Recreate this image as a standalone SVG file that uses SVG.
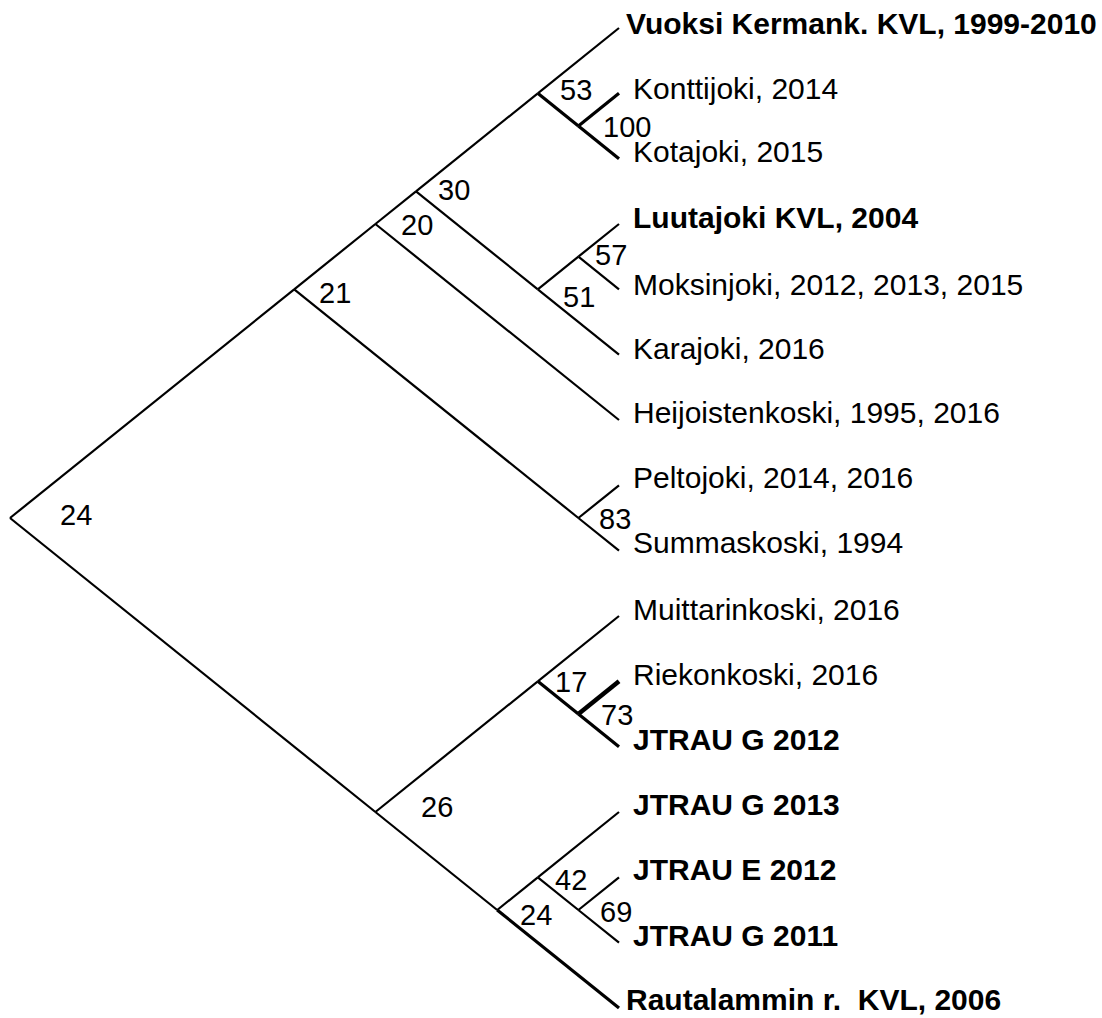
<svg xmlns="http://www.w3.org/2000/svg" width="1102" height="1018" viewBox="0 0 1102 1018">
<style>
.e{stroke:#000;stroke-width:2.2;fill:none}
.t{stroke:#000;stroke-width:3.2;fill:none}
.tt{stroke:#000;stroke-width:4.5;fill:none}
.lb{font-family:"Liberation Sans",Arial,sans-serif;font-size:30px;fill:#000}
.b{font-weight:bold}
.n{font-family:"Liberation Sans",Arial,sans-serif;font-size:29px;fill:#000}
</style>
<rect width="1102" height="1018" fill="#fff"/>
<g id="connectors">
<line class="e" x1="10" y1="518" x2="294.2" y2="289.33"/>
<line class="e" x1="10" y1="518" x2="375.4" y2="812"/>
<line class="e" x1="294.2" y1="289.33" x2="375.4" y2="224"/>
<line class="e" x1="294.2" y1="289.33" x2="578.4" y2="518"/>
<line class="e" x1="375.4" y1="224" x2="416" y2="191.33"/>
<line class="e" x1="375.4" y1="224" x2="619" y2="420"/>
<line class="e" x1="416" y1="191.33" x2="537.8" y2="93.33"/>
<line class="e" x1="416" y1="191.33" x2="537.8" y2="289.33"/>
<line class="e" x1="537.8" y1="93.33" x2="619" y2="28"/>
<line class="t" x1="537.8" y1="93.33" x2="578.4" y2="126"/>
<line class="t" x1="578.4" y1="126" x2="619" y2="93.33"/>
<line class="t" x1="578.4" y1="126" x2="619" y2="158.67"/>
<line class="e" x1="537.8" y1="289.33" x2="578.4" y2="256.67"/>
<line class="e" x1="537.8" y1="289.33" x2="619" y2="354.67"/>
<line class="e" x1="578.4" y1="256.67" x2="619" y2="224"/>
<line class="e" x1="578.4" y1="256.67" x2="619" y2="289.33"/>
<line class="e" x1="578.4" y1="518" x2="619" y2="485.33"/>
<line class="e" x1="578.4" y1="518" x2="619" y2="550.67"/>
<line class="e" x1="375.4" y1="812" x2="537.8" y2="681.33"/>
<line class="e" x1="375.4" y1="812" x2="497.2" y2="910"/>
<line class="e" x1="537.8" y1="681.33" x2="619" y2="616"/>
<line class="t" x1="537.8" y1="681.33" x2="578.4" y2="714"/>
<line class="tt" x1="578.4" y1="714" x2="619" y2="681.33"/>
<line class="t" x1="578.4" y1="714" x2="619" y2="746.67"/>
<line class="e" x1="497.2" y1="910" x2="537.8" y2="877.33"/>
<line class="t" x1="497.2" y1="910" x2="619" y2="1008"/>
<line class="e" x1="537.8" y1="877.33" x2="619" y2="812"/>
<line class="e" x1="537.8" y1="877.33" x2="578.4" y2="910"/>
<line class="e" x1="578.4" y1="910" x2="619" y2="877.33"/>
<line class="e" x1="578.4" y1="910" x2="619" y2="942.67"/>
</g>
<g id="tip-vuoksi"><text class="lb b" x="626" y="34">Vuoksi Kermank. KVL, 1999-2010</text></g>
<g id="tip-konttijoki"><text class="lb" x="633" y="99">Konttijoki, 2014</text></g>
<g id="tip-kotajoki"><text class="lb" x="633" y="162">Kotajoki, 2015</text></g>
<g id="tip-luutajoki"><text class="lb b" x="633" y="228">Luutajoki KVL, 2004</text></g>
<g id="tip-moksinjoki"><text class="lb" x="633" y="295">Moksinjoki, 2012, 2013, 2015</text></g>
<g id="tip-karajoki"><text class="lb" x="633" y="359">Karajoki, 2016</text></g>
<g id="tip-heijoistenkoski"><text class="lb" x="633" y="423">Heijoistenkoski, 1995, 2016</text></g>
<g id="tip-peltojoki"><text class="lb" x="633" y="488">Peltojoki, 2014, 2016</text></g>
<g id="tip-summaskoski"><text class="lb" x="633" y="553">Summaskoski, 1994</text></g>
<g id="tip-muittarinkoski"><text class="lb" x="633" y="620">Muittarinkoski, 2016</text></g>
<g id="tip-riekonkoski"><text class="lb" x="633" y="685">Riekonkoski, 2016</text></g>
<g id="tip-jtrau-g-2012"><text class="lb b" x="633" y="750">JTRAU G 2012</text></g>
<g id="tip-jtrau-g-2013"><text class="lb b" x="633" y="815">JTRAU G 2013</text></g>
<g id="tip-jtrau-e-2012"><text class="lb b" x="633" y="880">JTRAU E 2012</text></g>
<g id="tip-jtrau-g-2011"><text class="lb b" x="633" y="946">JTRAU G 2011</text></g>
<g id="tip-rautalammin"><text class="lb b" x="626" y="1010" xml:space="preserve">Rautalammin r.  KVL, 2006</text></g>
<g id="node-root"><text class="n" x="60" y="525">24</text></g>
<g id="node-21"><text class="n" x="319" y="303">21</text></g>
<g id="node-20"><text class="n" x="401" y="235">20</text></g>
<g id="node-30"><text class="n" x="438" y="200">30</text></g>
<g id="node-53"><text class="n" x="560" y="100">53</text></g>
<g id="node-100"><text class="n" x="603" y="137">100</text></g>
<g id="node-51"><text class="n" x="563" y="307">51</text></g>
<g id="node-57"><text class="n" x="595" y="265">57</text></g>
<g id="node-83"><text class="n" x="599" y="529">83</text></g>
<g id="node-26"><text class="n" x="421" y="817">26</text></g>
<g id="node-17"><text class="n" x="555" y="692">17</text></g>
<g id="node-73"><text class="n" x="601" y="725">73</text></g>
<g id="node-24b"><text class="n" x="520" y="925">24</text></g>
<g id="node-42"><text class="n" x="555" y="890">42</text></g>
<g id="node-69"><text class="n" x="600" y="922">69</text></g>
</svg>
